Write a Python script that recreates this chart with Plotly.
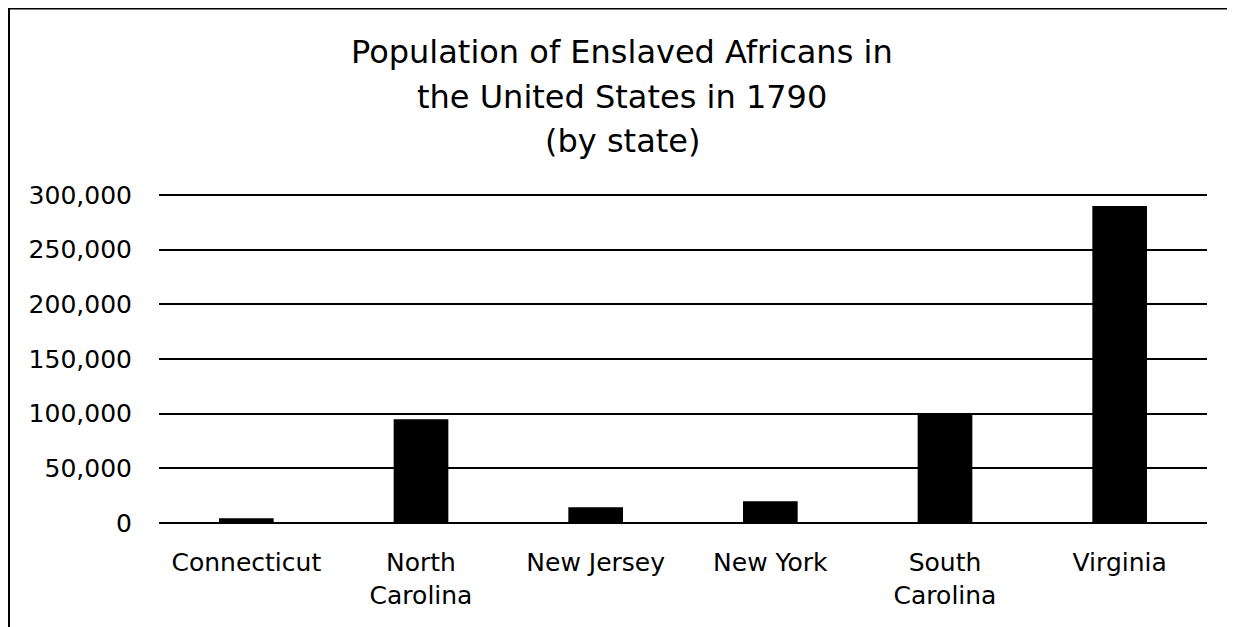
import plotly.graph_objects as go

states = ["Connecticut", "North<br>Carolina", "New Jersey", "New York", "South<br>Carolina", "Virginia"]
enslaved = [4300, 95000, 14300, 19800, 100000, 290000]
y_ticks = [0, 50000, 100000, 150000, 200000, 250000, 300000]
title_lines = ["Population of Enslaved Africans in", "the United States in 1790", "(by state)"]

# The page body has an 8px margin, so the figure starts at (8, 8) on screen.
OFF = 8
W, H = 1235 - OFF, 627 - OFF
y_top = 300000
y_max = 301000
scr_zero, scr_top = 523.3, 195.5
ph = (scr_zero - scr_top) * y_max / y_top
mb = 627 - scr_zero
mt = H - mb - ph
ml = 159 - OFF
mr = 1235 - 1207
pw = W - ml - mr

def px_x(x):  # screen x -> paper
    return (x - OFF - ml) / pw

def px_y(y):  # screen y -> paper
    return (H - mb - (y - OFF)) / ph

fig = go.Figure(go.Bar(
    x=states, y=enslaved,
    marker=dict(color="black", line=dict(width=0)),
))

title_baselines = [63, 108, 152]
annotations = [
    dict(text=t, xref="paper", yref="paper", x=px_x(622), y=px_y(b - 11),
         xanchor="center", yanchor="middle", showarrow=False,
         font=dict(family="DejaVu Sans", size=32, color="black"))
    for t, b in zip(title_lines, title_baselines)
]

fig.update_layout(
    width=W, height=H,
    margin=dict(l=ml, r=mr, t=mt, b=mb, autoexpand=False),
    paper_bgcolor="white", plot_bgcolor="white",
    bargap=0.687,
    showlegend=False,
    font=dict(family="DejaVu Sans", color="black", size=25),
    annotations=annotations,
    xaxis=dict(showgrid=False, showline=False, ticks="", tickfont=dict(size=25),
               ticklabelstandoff=22),
    yaxis=dict(range=[0, y_max], tickvals=y_ticks, tickformat=",",
               showgrid=True, gridcolor="black", gridwidth=1.6,
               zeroline=True, zerolinecolor="black", zerolinewidth=1.6,
               showline=False, ticks="", tickfont=dict(size=25),
               ticklabelstandoff=26),
    shapes=[
        dict(type="path", xref="paper", yref="paper",
             path=f"M {px_x(9)} {px_y(640)} L {px_x(9)} {px_y(9)} L {px_x(1233)} {px_y(9)}",
             line=dict(color="black", width=2)),
        dict(type="line", xref="paper", yref="paper",
             x0=px_x(1233), x1=px_x(1233), y0=px_y(9), y1=px_y(640),
             line=dict(color="#d9d9d9", width=1)),
    ],
)

fig.write_html("out.html")
